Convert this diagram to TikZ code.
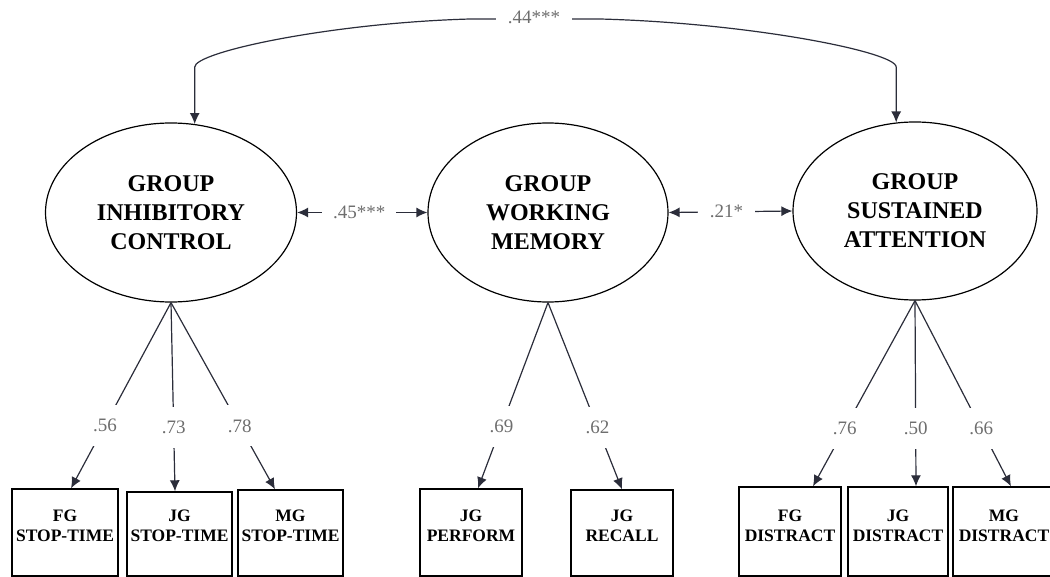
\documentclass[tikz,border=0pt]{standalone}
\usepackage{fontspec}
\setmainfont{Liberation Serif}
\usetikzlibrary{arrows.meta,shapes.geometric,calc}
\definecolor{arrc}{HTML}{2B2D3A}
\definecolor{labc}{HTML}{6E6E6E}
\begin{document}
\begin{tikzpicture}[x=1pt,y=-1pt,
 latent/.style={ellipse,draw=black,line width=1.2pt,inner sep=0pt,align=center,font=\fontsize{24}{29}\selectfont\bfseries},
 obs/.style={rectangle,draw=black,line width=1.4pt,inner sep=0pt},
 obstxt/.style={align=center,font=\fontsize{17.5}{20}\selectfont\bfseries,inner sep=0pt},
 link/.style={draw=arrc,line width=1.2pt},
 one/.style={arrows={-Latex[length=11pt,width=10pt]}},
 dbl/.style={arrows={Latex[length=11pt,width=10pt]-Latex[length=11pt,width=10pt]}},
 coef/.style={fill=white,text=labc,font=\fontsize{19}{22}\selectfont,inner xsep=2pt,inner ysep=14pt},
 coefh/.style={fill=white,text=labc,font=\fontsize{19}{22}\selectfont,inner xsep=11pt,inner ysep=3pt},
]
\useasboundingbox (0,0) rectangle (1050,577);

% latent factors
\node[latent,minimum width=251pt,minimum height=179pt] (e1) at (171,212.5) {GROUP\\INHIBITORY\\CONTROL};
\node[latent,minimum width=240pt,minimum height=179pt] (e2) at (548,212.5) {GROUP\\WORKING\\MEMORY};
\node[latent,minimum width=244pt,minimum height=178pt] (e3) at (915,211) {GROUP\\SUSTAINED\\ATTENTION};

% observed indicators
\node[obs,minimum width=106pt,minimum height=87pt,label={[obstxt,yshift=6.5pt]center:{FG\\STOP-TIME}}] (b1) at (65,532.5) {};
\node[obs,minimum width=105pt,minimum height=84pt,label={[obstxt,yshift=8pt]center:{JG\\STOP-TIME}}] (b2) at (179.5,534) {};
\node[obs,minimum width=105pt,minimum height=86pt,label={[obstxt,yshift=7pt]center:{MG\\STOP-TIME}}] (b3) at (290.5,533) {};
\node[obs,minimum width=102pt,minimum height=87pt,label={[obstxt,yshift=6.5pt]center:{JG\\PERFORM}}] (b4) at (471,532.5) {};
\node[obs,minimum width=102pt,minimum height=86pt,label={[obstxt,yshift=7pt]center:{JG\\RECALL}}] (b5) at (622,533) {};
\node[obs,minimum width=102pt,minimum height=89pt,label={[obstxt,yshift=5.5pt]center:{FG\\DISTRACT}}] (b6) at (790,531.5) {};
\node[obs,minimum width=100pt,minimum height=89pt,label={[obstxt,yshift=5.5pt]center:{JG\\DISTRACT}}] (b7) at (898,531.5) {};
\node[obs,minimum width=102pt,minimum height=89pt,label={[obstxt,yshift=5.5pt]center:{MG\\DISTRACT}}] (b8) at (1004,531.5) {};

% top correlation
\coordinate (lvl) at (0,67);
\draw[link,dbl] (e1.75) -- (e1.75 |- lvl)
  .. controls ($(e1.75 |- lvl)+(0,-15)$) and (330,23) .. (470,19)
  -- (600,19)
  .. controls (750,23) and ($(e3.102 |- lvl)+(0,-15)$) .. (e3.102 |- lvl)
  -- (e3.102);
\node[coefh,inner xsep=12pt,yshift=2pt] (c44) at (534,19) {.44***};

% factor correlations
\draw[link,dbl] (e1.east) -- node[coefh,xshift=-3pt] (c45) {.45***} (e2.west);
\draw[link,dbl] (e2.east) -- node[coefh,inner xsep=12pt,xshift=-4pt] (c21) {.21*} (e3.west);

% loadings
\draw[link,one] (e1.south) -- node[coef,pos=0.66] (l1) {.56} ($(b1.north)+(6,0)$);
\draw[link,one] (e1.south) -- node[coef,pos=0.66] (l2) {.73} ($(b2.north)+(-4.5,0)$);
\draw[link,one] (e1.south) -- node[coef,pos=0.66] (l3) {.78} ($(b3.north)+(-15.5,0)$);
\draw[link,one] (e2.south) -- node[coef,pos=0.665] (l4) {.69} ($(b4.north)+(7,0)$);
\draw[link,one] (e2.south) -- node[coef,pos=0.67] (l5) {.62} ($(b5.north)+(0,0)$);
\draw[link,one] (e3.south) -- node[coef,pos=0.69] (l6) {.76} ($(b6.north)+(23,0)$);
\draw[link,one] (e3.south) -- node[coef,pos=0.69] (l7) {.50} ($(b7.north)+(18,0)$);
\draw[link,one] (e3.south) -- node[coef,pos=0.69] (l8) {.66} ($(b8.north)+(7,0)$);
\end{tikzpicture}
\end{document}
